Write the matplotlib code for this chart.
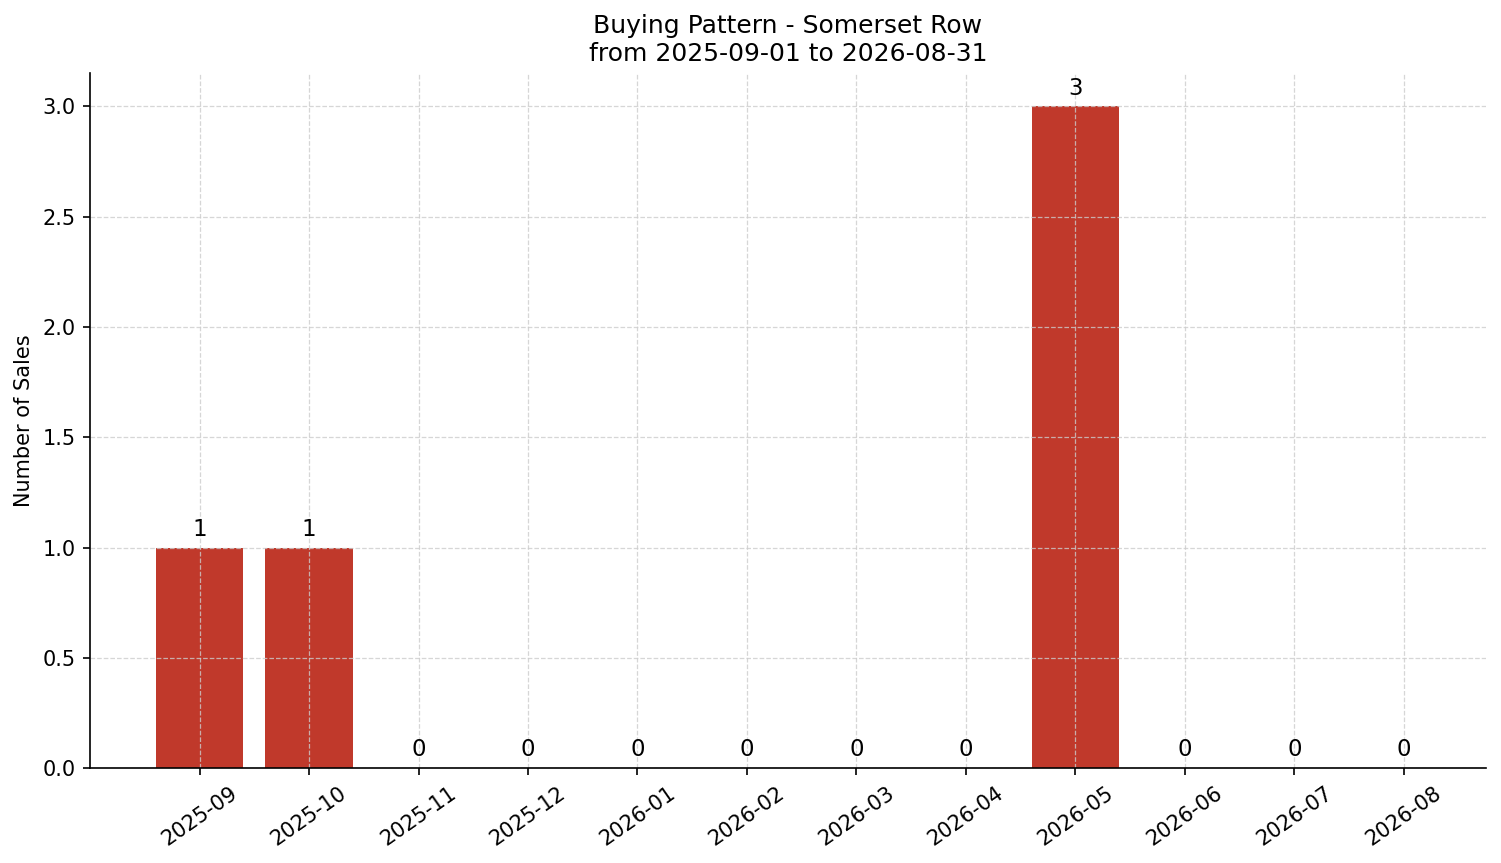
import matplotlib.pyplot as plt
import numpy as np

months = ['2025-09', '2025-10', '2025-11', '2025-12', '2026-01', '2026-02',
          '2026-03', '2026-04', '2026-05', '2026-06', '2026-07', '2026-08']
sales = [1, 1, 0, 0, 0, 0, 0, 0, 3, 0, 0, 0]

fig, ax = plt.subplots(figsize=(1501 / 150, 863 / 150), dpi=150)
x = np.arange(len(months))
bars = ax.bar(x, sales, color='#c0392b', width=0.8)
for xi, v in zip(x, sales):
    ax.text(xi, v + 0.03, str(v), ha='center', va='bottom', fontsize=11)

ax.set_xticks(x)
ax.set_xticklabels(months, rotation=35)
ax.set_ylim(0, 3.15)
ax.set_xlim(-1, 11.75)
ax.set_ylabel('Number of Sales')
ax.set_title('Buying Pattern - Somerset Row\nfrom 2025-09-01 to 2026-08-31', fontsize=12)
ax.grid(True, linestyle='--', color='#cccccc', linewidth=0.6, alpha=0.8)
ax.spines['top'].set_visible(False)
ax.spines['right'].set_visible(False)

plt.subplots_adjust(left=0.06, right=0.99, top=0.915, bottom=0.11)
plt.savefig('out.png', dpi=150)
